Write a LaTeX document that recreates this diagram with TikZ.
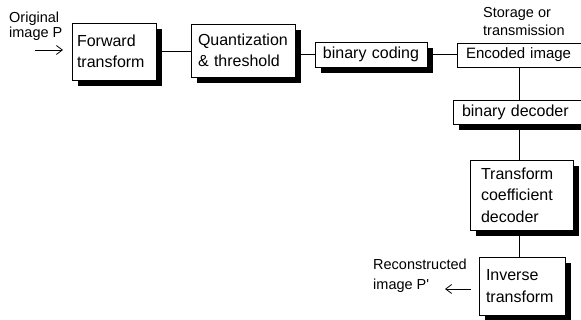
\documentclass[tikz,border=0pt]{standalone}
\usepackage{fontspec}
\setmainfont{Liberation Sans}
\usetikzlibrary{shadows,arrows.meta}
\begin{document}
\begin{tikzpicture}[x=1pt,y=-1pt,
  plain/.style={draw, line width=0.8pt, fill=white, font=\fontsize{16}{21.5}\selectfont, align=left, inner ysep=0pt},
  blk/.style={plain, drop shadow={shadow xshift=6pt, shadow yshift=-6pt, fill=black, opacity=1}},
  lbl/.style={font=\fontsize{14.5}{17}\selectfont, align=left, inner sep=0pt},
  conn/.style={line width=0.8pt},
  arr/.style={line width=0.8pt, -{Straight Barb[length=6pt,width=9pt]}}]
\useasboundingbox (0,0) rectangle (581,320);
\node[blk, text width=74pt, inner xsep=5pt, minimum height=57pt] (ft) at (114,51.5) {Forward\\transform};
\node[blk, text width=90pt, inner xsep=7pt, minimum height=53pt] (q) at (243,50.5) {Quantization\\\& threshold};
\node[blk, text width=100pt, inner xsep=6pt, minimum height=25pt, align=center] (bc) at (371,54.5) {binary coding};
\node[plain, text width=120pt, inner xsep=9pt, minimum height=24pt, font=\fontsize{15}{18}\selectfont] (enc) at (526,55) {Encoded image};
\node[blk, text width=119pt, inner xsep=9pt, minimum height=24pt] (bd) at (521.5,112) {binary decoder};
\node[blk, text width=81pt, inner xsep=11pt, minimum height=70pt] (tcd) at (521.5,195) {Transform\\coefficient\\decoder};
\node[blk, text width=72pt, inner xsep=7pt, minimum height=58pt] (inv) at (522,286) {Inverse\\transform};
\node[lbl, anchor=north west, font=\fontsize{14.5}{14.5}\selectfont] (orig) at (9,12) {Original\\image P};
\node[lbl, anchor=north west, font=\fontsize{14.5}{18}\selectfont] (stor) at (483,7) {Storage or\\transmission};
\node[lbl, anchor=north west, font=\fontsize{14.5}{20}\selectfont] (rec) at (373,259) {Reconstructed\\image P\textquotesingle};
\coordinate (ina) at (35,50);
\coordinate (inb) at (63,50);
\coordinate (outa) at (471,289);
\coordinate (outb) at (445,289);
\coordinate (vx) at (519,0);
\draw[arr] (ina) -- (inb);
\draw[arr] (outa) -- (outb);
\draw[conn] (ft.east) -- (q.west |- ft.east);
\draw[conn] (q.east |- bc.west) -- (bc.west);
\draw[conn] (bc.east) -- (enc.west |- bc.east);
\draw[conn] (enc.south -| vx) -- (bd.north -| vx);
\draw[conn] (bd.south -| vx) -- (tcd.north -| vx);
\draw[conn] (tcd.south -| vx) -- (inv.north -| vx);
\end{tikzpicture}
\end{document}
